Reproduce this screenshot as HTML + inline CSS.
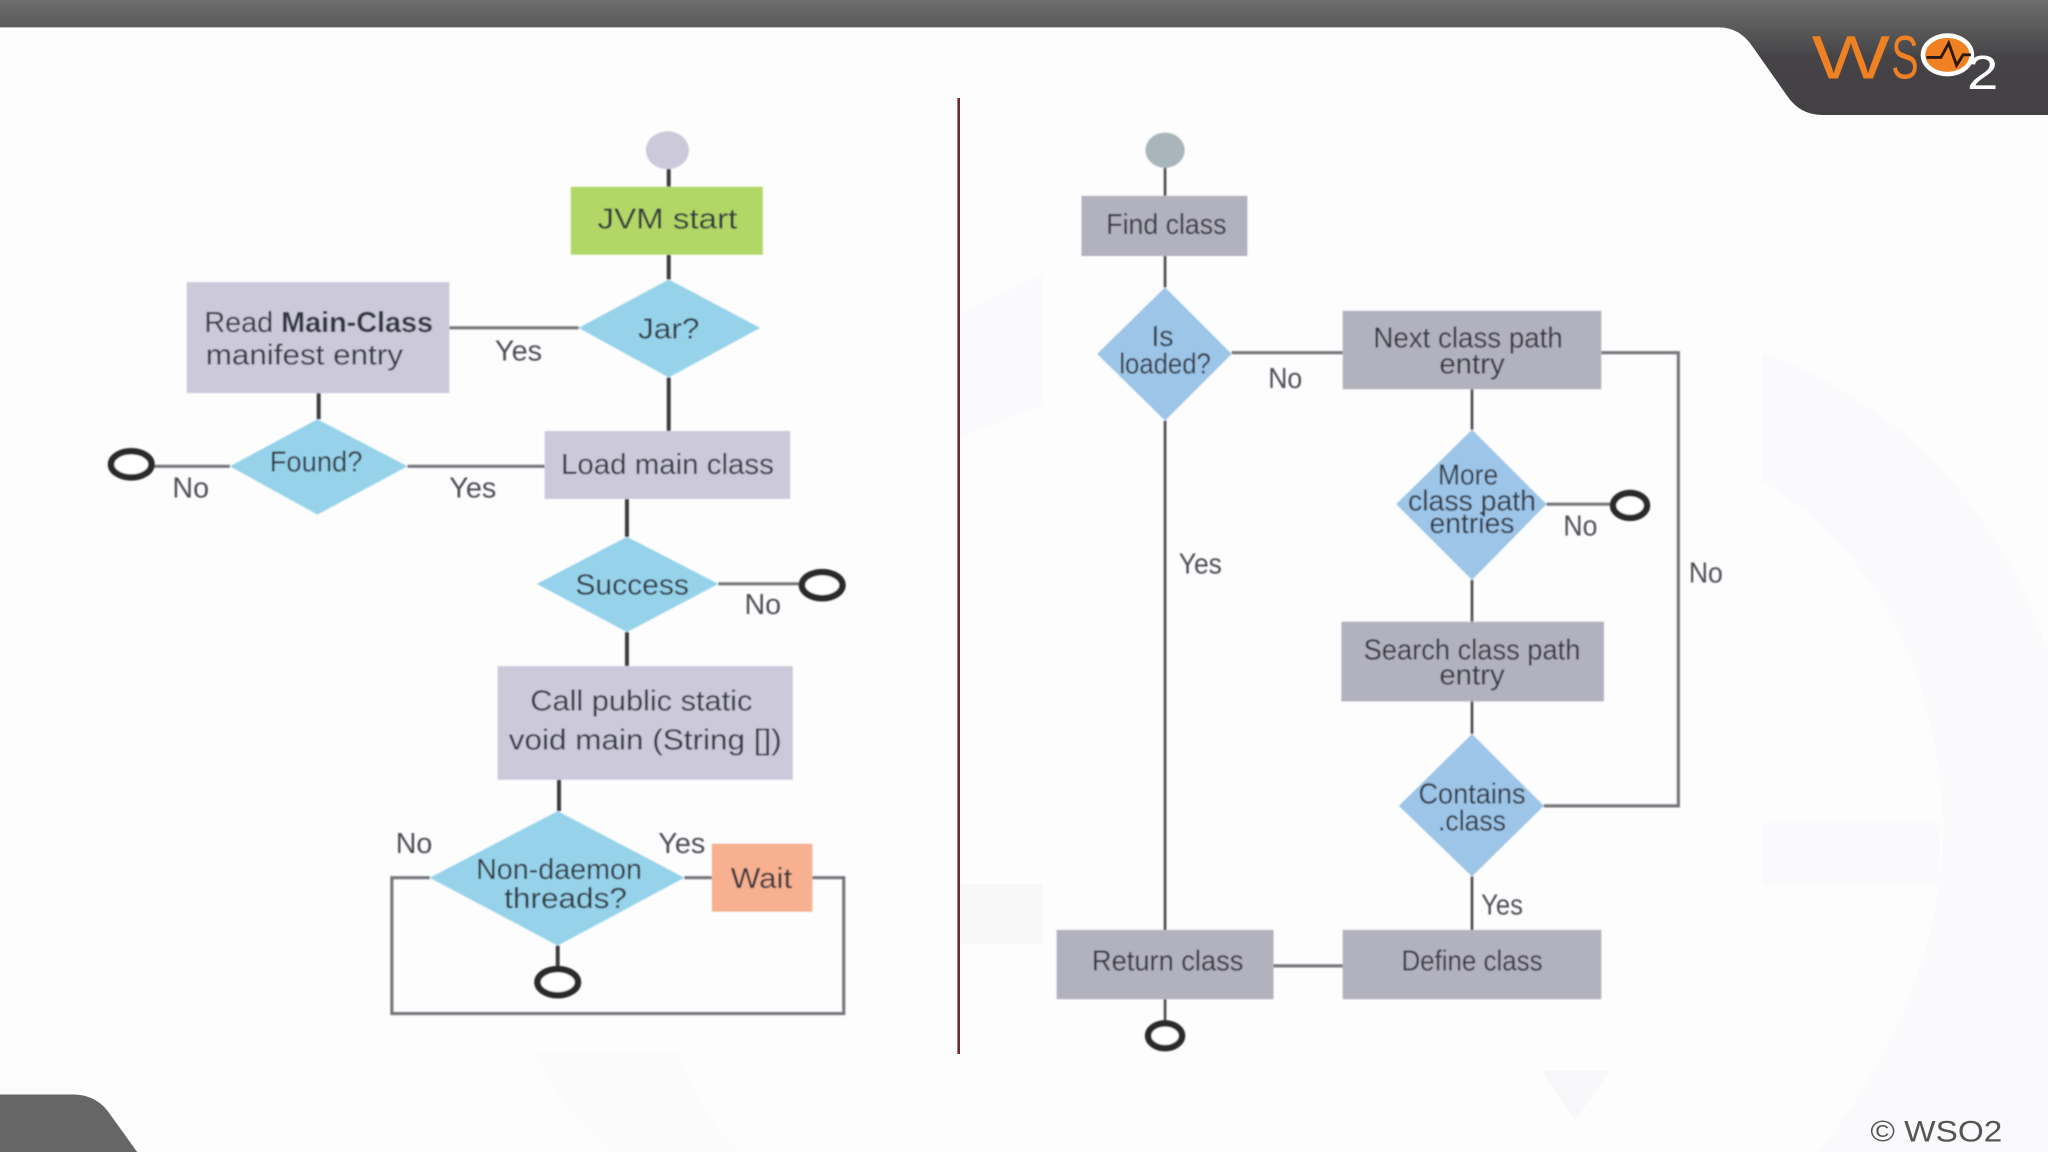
<!DOCTYPE html>
<html lang="en">
<head>
<meta charset="utf-8">
<title>JVM class loading flow</title>
<style>
html,body{margin:0;padding:0;background:#fdfdfe;width:2048px;height:1152px;overflow:hidden}
svg{display:block}
text{font-family:"Liberation Sans",sans-serif}
.t{font-size:22px;fill:#33353f;text-anchor:middle}
.l{font-size:22px;fill:#4d4d54;text-anchor:middle}
.n{fill:none;stroke:#3a3a3c;stroke-width:3}
.g{fill:none;stroke:#77777c;stroke-width:2.4}
.e{fill:#fff;stroke:#2a2a2a;stroke-width:5}
</style>
</head>
<body>
<svg xmlns="http://www.w3.org/2000/svg" width="2048" height="1152" viewBox="0 0 1568 882">
<defs>
<linearGradient id="hd" x1="0" y1="0" x2="0" y2="1">
<stop offset="0" stop-color="#6e6e6e"/><stop offset="0.22" stop-color="#5c5c5c"/><stop offset="0.5" stop-color="#454346"/><stop offset="1" stop-color="#434144"/>
</linearGradient>
<filter id="b" x="-5%" y="-5%" width="110%" height="110%"><feGaussianBlur stdDeviation="0.55"/></filter>
</defs>

<rect width="1568" height="882" fill="#fdfdfe"/>

<!-- watermark -->
<g fill="#fafafc">
<path d="M1349 270Q1510 330 1568 500L1568 882L1392 882Q1488 760 1488 630Q1480 450 1349 368Z"/>
<rect x="1349" y="630" width="136" height="48"/>
<path d="M1180 820L1232 820L1206 858Z" fill="#f8f7fa"/>
<path d="M735 240L798 210L798 310L735 335Z"/>
<rect x="735" y="677" width="63" height="46" fill="#f8f8f9"/>
<path d="M410 807L520 807Q535 850 565 882L470 882Q430 850 410 807Z" fill="#fbfbfc"/>
</g>

<!-- header -->
<path d="M0 0H1568V88H1395Q1378 88 1368 73L1342 36Q1332 21 1316 21H0Z" fill="url(#hd)"/>
<!-- logo -->
<text x="1387" y="60" font-size="47" fill="#ef8122" textLength="60" lengthAdjust="spacingAndGlyphs">W</text>
<text x="1448" y="60" font-size="47" fill="#ef8122" textLength="21" lengthAdjust="spacingAndGlyphs">S</text>
<ellipse cx="1491" cy="42" rx="20.5" ry="16.5" fill="#fff"/>
<ellipse cx="1491" cy="42" rx="17" ry="13" fill="#ef8122"/>
<path d="M1475 44H1486L1492 33L1498 50L1503 42H1509" fill="none" stroke="#2b1a10" stroke-width="2.2"/>
<text x="1506" y="68" font-size="37" fill="#fff" textLength="24" lengthAdjust="spacingAndGlyphs">2</text>

<!-- footer -->
<path d="M0 838H56Q72 838 82 850L105 882H0Z" fill="#666"/>
<text x="1432" y="874" font-size="22.5" fill="#555" textLength="101" lengthAdjust="spacingAndGlyphs">© WSO2</text>

<!-- divider -->
<line x1="734" y1="75" x2="734" y2="807" stroke="#6d2c2c" stroke-width="2"/>

<g filter="url(#b)">
<!-- LEFT connectors -->
<path class="n" d="M512 128V143M512 195V214M512 289V330M244 301V321M480 382V411M480 484V510M428 597V621M427 724V742"/>
<path class="g" d="M344 251H443M312 357H417M118 357H176M550 447H612"/>
<path class="g" d="M329 672H300V776H646V672H622M524 672H545"/>

<!-- LEFT nodes -->
<ellipse cx="511" cy="115" rx="16.5" ry="14.5" fill="#cbc9da"/>
<rect x="437" y="143" width="147" height="52" fill="#b2d766"/>
<path d="M512 214L582 251L512 289L443 251Z" fill="#96d3ea"/>
<rect x="143" y="216" width="201" height="85" fill="#cbc9da"/>
<path d="M243 321L312 357L243 394L176 357Z" fill="#96d3ea"/>
<rect x="417" y="330" width="188" height="52" fill="#cbc9da"/>
<path d="M480 411L550 447L480 484L411 447Z" fill="#96d3ea"/>
<rect x="381" y="510" width="226" height="87" fill="#cbc9da"/>
<path d="M427 621L524 672L427 724L329 672Z" fill="#96d3ea"/>
<rect x="545" y="646" width="77" height="52" fill="#f7b090"/>
<ellipse class="e" cx="100.500" cy="355.500" rx="15.500" ry="10"/>
<ellipse class="e" cx="629.500" cy="448" rx="15.500" ry="10"/>
<ellipse class="e" cx="427" cy="752" rx="15.500" ry="10"/>

<!-- LEFT labels -->
<text class="t" x="511" y="175" textLength="107" lengthAdjust="spacingAndGlyphs">JVM start</text>
<text class="t" x="512" y="259" textLength="47" lengthAdjust="spacingAndGlyphs">Jar?</text>
<text class="t" x="244" y="254" textLength="175" lengthAdjust="spacingAndGlyphs">Read <tspan font-weight="bold">Main-Class</tspan></text>
<text class="t" x="233" y="279" textLength="151" lengthAdjust="spacingAndGlyphs">manifest entry</text>
<text class="t" x="242" y="361" textLength="71" lengthAdjust="spacingAndGlyphs">Found?</text>
<text class="t" x="511" y="363" textLength="163" lengthAdjust="spacingAndGlyphs">Load main class</text>
<text class="t" x="484" y="455" textLength="87" lengthAdjust="spacingAndGlyphs">Success</text>
<text class="t" x="491" y="544" textLength="170" lengthAdjust="spacingAndGlyphs">Call public static</text>
<text class="t" x="494" y="574" textLength="209" lengthAdjust="spacingAndGlyphs">void main (String [])</text>
<text class="t" x="428" y="673" textLength="127" lengthAdjust="spacingAndGlyphs">Non-daemon</text>
<text class="t" x="433" y="695" textLength="94" lengthAdjust="spacingAndGlyphs">threads?</text>
<text class="t" x="583" y="680" textLength="47" lengthAdjust="spacingAndGlyphs">Wait</text>
<text class="l" x="397" y="276" textLength="36" lengthAdjust="spacingAndGlyphs">Yes</text>
<text class="l" x="146" y="381" textLength="28" lengthAdjust="spacingAndGlyphs">No</text>
<text class="l" x="362" y="381" textLength="36" lengthAdjust="spacingAndGlyphs">Yes</text>
<text class="l" x="584" y="470" textLength="28" lengthAdjust="spacingAndGlyphs">No</text>
<text class="l" x="317" y="653" textLength="28" lengthAdjust="spacingAndGlyphs">No</text>
<text class="l" x="522" y="653" textLength="36" lengthAdjust="spacingAndGlyphs">Yes</text>

<!-- RIGHT connectors -->
<path d="M892 128V150M892 196V220M892 322V712M892 765V783M1127 298V329M1127 444V476M1127 537V562M1127 671V712" fill="none" stroke="#4a4a4e" stroke-width="2"/>
<path class="g" d="M943 270H1028M1226 270H1285V617H1182M975 739.500H1028M1184 386H1233"/>

<!-- RIGHT nodes -->
<ellipse cx="892" cy="115" rx="15" ry="13.500" fill="#a8b5bb"/>
<rect x="828" y="150" width="127" height="46" fill="#b2b1be"/>
<path d="M892 220L943 271L892 322L840 271Z" fill="#9cc5e8"/>
<rect x="1028" y="238" width="198" height="60" fill="#b2b1be"/>
<path d="M1127 329L1184 386L1127 444L1069 386Z" fill="#9cc5e8"/>
<rect x="1027" y="476" width="201" height="61" fill="#b2b1be"/>
<path d="M1127 562L1182 617L1127 671L1071 617Z" fill="#9cc5e8"/>
<rect x="809" y="712" width="166" height="53" fill="#b2b1be"/>
<rect x="1028" y="712" width="198" height="53" fill="#b2b1be"/>
<ellipse class="e" cx="892" cy="793" rx="13" ry="9.500"/>
<ellipse class="e" cx="1248" cy="387" rx="13" ry="9.500"/>

<!-- RIGHT labels -->
<text class="t" x="893" y="179" textLength="92" lengthAdjust="spacingAndGlyphs">Find class</text>
<text class="t" x="890" y="265" textLength="17" lengthAdjust="spacingAndGlyphs">Is</text>
<text class="t" x="892" y="286" textLength="70" lengthAdjust="spacingAndGlyphs">loaded?</text>
<text class="t" x="1124" y="266" textLength="145" lengthAdjust="spacingAndGlyphs">Next class path</text>
<text class="t" x="1127" y="286" textLength="50" lengthAdjust="spacingAndGlyphs">entry</text>
<text class="t" x="1124" y="371" textLength="46" lengthAdjust="spacingAndGlyphs">More</text>
<text class="t" x="1127" y="391" textLength="98" lengthAdjust="spacingAndGlyphs">class path</text>
<text class="t" x="1127" y="408" textLength="65" lengthAdjust="spacingAndGlyphs">entries</text>
<text class="t" x="1127" y="505" textLength="166" lengthAdjust="spacingAndGlyphs">Search class path</text>
<text class="t" x="1127" y="524" textLength="50" lengthAdjust="spacingAndGlyphs">entry</text>
<text class="t" x="1127" y="615" textLength="82" lengthAdjust="spacingAndGlyphs">Contains</text>
<text class="t" x="1127" y="636" textLength="52" lengthAdjust="spacingAndGlyphs">.class</text>
<text class="t" x="894" y="743" textLength="116" lengthAdjust="spacingAndGlyphs">Return class</text>
<text class="t" x="1127" y="743" textLength="108" lengthAdjust="spacingAndGlyphs">Define class</text>
<text class="l" x="984" y="297" textLength="26" lengthAdjust="spacingAndGlyphs">No</text>
<text class="l" x="1210" y="410" textLength="26" lengthAdjust="spacingAndGlyphs">No</text>
<text class="l" x="919" y="439" textLength="33" lengthAdjust="spacingAndGlyphs">Yes</text>
<text class="l" x="1306" y="446" textLength="26" lengthAdjust="spacingAndGlyphs">No</text>
<text class="l" x="1150" y="700" textLength="32" lengthAdjust="spacingAndGlyphs">Yes</text>
</g>
</svg>
</body>
</html>
